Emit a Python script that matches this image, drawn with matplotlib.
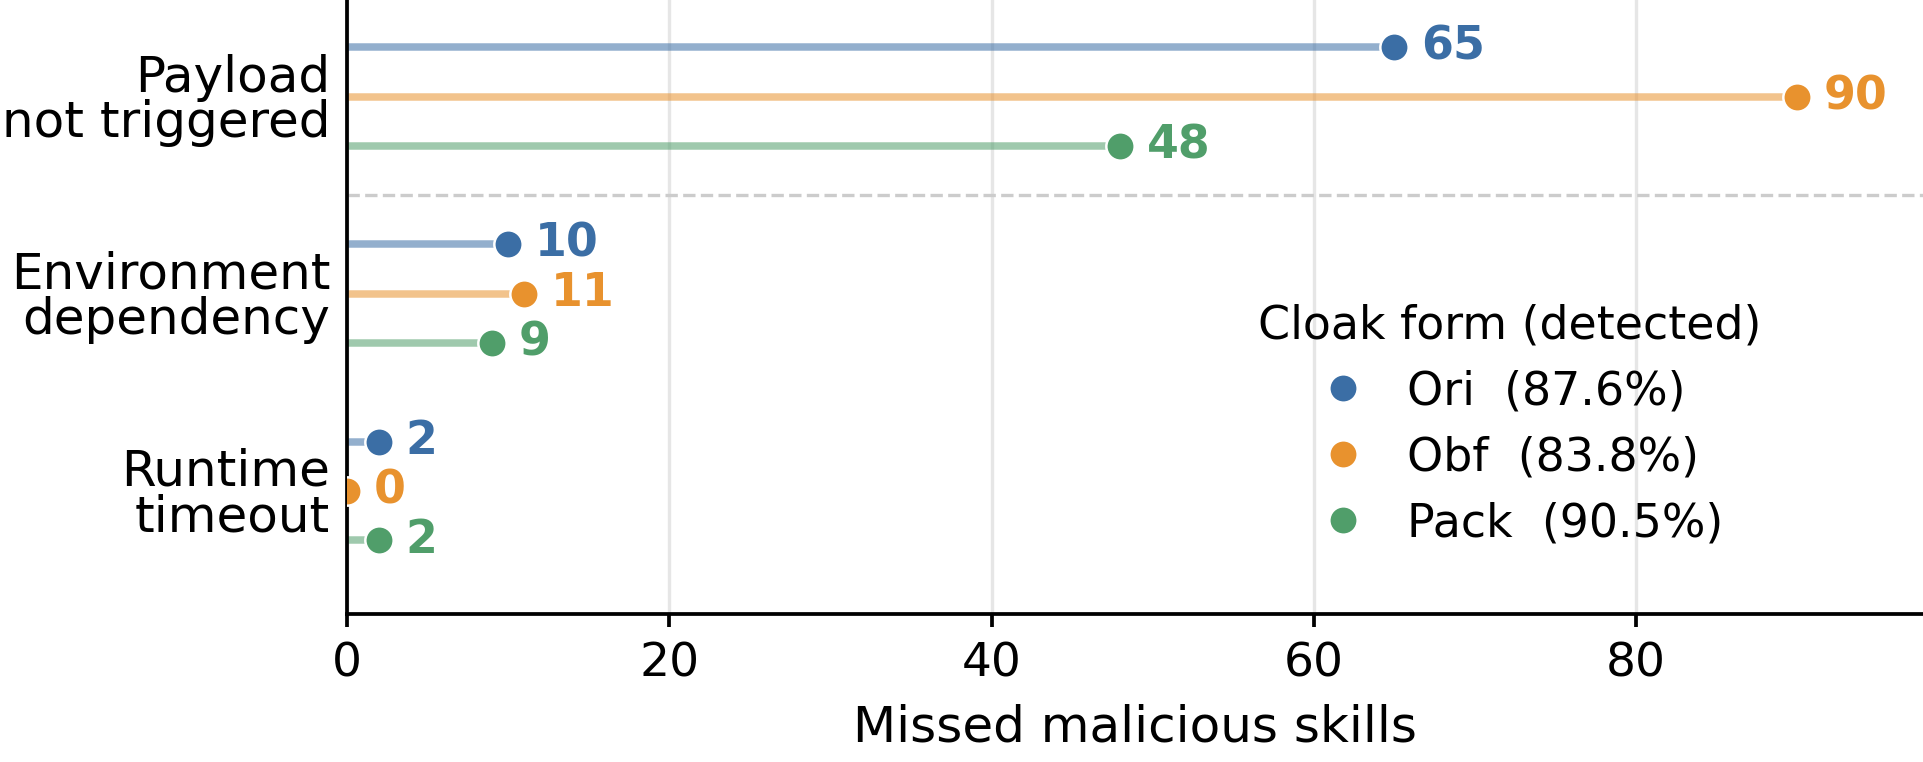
import matplotlib
matplotlib.use("Agg")
import matplotlib.pyplot as plt
from matplotlib.lines import Line2D
import numpy as np

# ---- data ----
categories = ["Payload\nnot triggered", "Environment\ndependency", "Runtime\ntimeout"]
series = ["Ori", "Obf", "Pack"]
detect_rates = ["87.6%", "83.8%", "90.5%"]
ori_vals = [65, 10, 2]
obf_vals = [90, 11, 0]
pack_vals = [48, 9, 2]
xticks = [0, 20, 40, 60, 80]
xlabel = "Missed malicious skills"
legend_title = "Cloak form (detected)"

colors = ["#3b6ea5", "#e8922e", "#509e6a"]
values = [ori_vals, obf_vals, pack_vals]

plt.rcParams['font.family'] = ['DejaVu Sans']

fig = plt.figure(figsize=(6.41, 2.54), dpi=300)
ax = fig.add_axes([347 / 1923, (762 - 614) / 762, 1 - 347 / 1923, 614 / 762])

ypos = np.arange(len(categories))
offsets = [-0.25, 0.0, 0.25]

for vals, col, off in zip(values, colors, offsets):
    yy = ypos + off
    ax.hlines(yy, 0, vals, color=col, alpha=0.55, lw=1.8, zorder=2)
    ax.plot(vals, yy, 'o', color=col, ms=6.8, mec='white', mew=0.6, zorder=3,
            linestyle='none')
    for v, y in zip(vals, yy):
        ax.annotate(str(v), (v, y), xytext=(6.3, 0), textcoords='offset points',
                    ha='left', va='center', fontsize=11, fontweight='bold',
                    color=col, zorder=4)

ax.axhline(0.5, color='#cccccc', ls='--', lw=0.8, zorder=1)

ax.set_xlim(0, 97.8)
ax.set_ylim(2.625, -0.49)
ax.set_yticks(ypos)
ax.set_yticklabels(categories, fontsize=12)
for t in ax.get_yticklabels():
    t.set_linespacing(0.93)
ax.set_xticks(xticks)
ax.set_xticklabels([str(t) for t in xticks], fontsize=11.3)
ax.tick_params(axis='y', length=0, pad=4)
ax.tick_params(axis='x', length=3, width=0.9, pad=3.6)
ax.set_xlabel(xlabel, fontsize=12, labelpad=4)

ax.xaxis.grid(True, color='#e6e6e6', lw=0.8, zorder=0)
ax.set_axisbelow(True)
for s in ['top', 'right']:
    ax.spines[s].set_visible(False)
for s in ['left', 'bottom']:
    ax.spines[s].set_linewidth(0.9)
    ax.spines[s].set_color('black')

handles = [Line2D([], [], marker='o', linestyle='none', color=c, ms=6.8,
                  mec='white', mew=0.6) for c in colors]
labels = [f"{s}  ({r})" for s, r in zip(series, detect_rates)]
leg = ax.legend(handles, labels, title=legend_title, loc='center',
                bbox_to_anchor=(0.738, 0.308), frameon=False, fontsize=11,
                title_fontsize=11, handlelength=2.0, handletextpad=0.4,
                labelspacing=0.46)

fig.savefig("out.png", dpi=300)
